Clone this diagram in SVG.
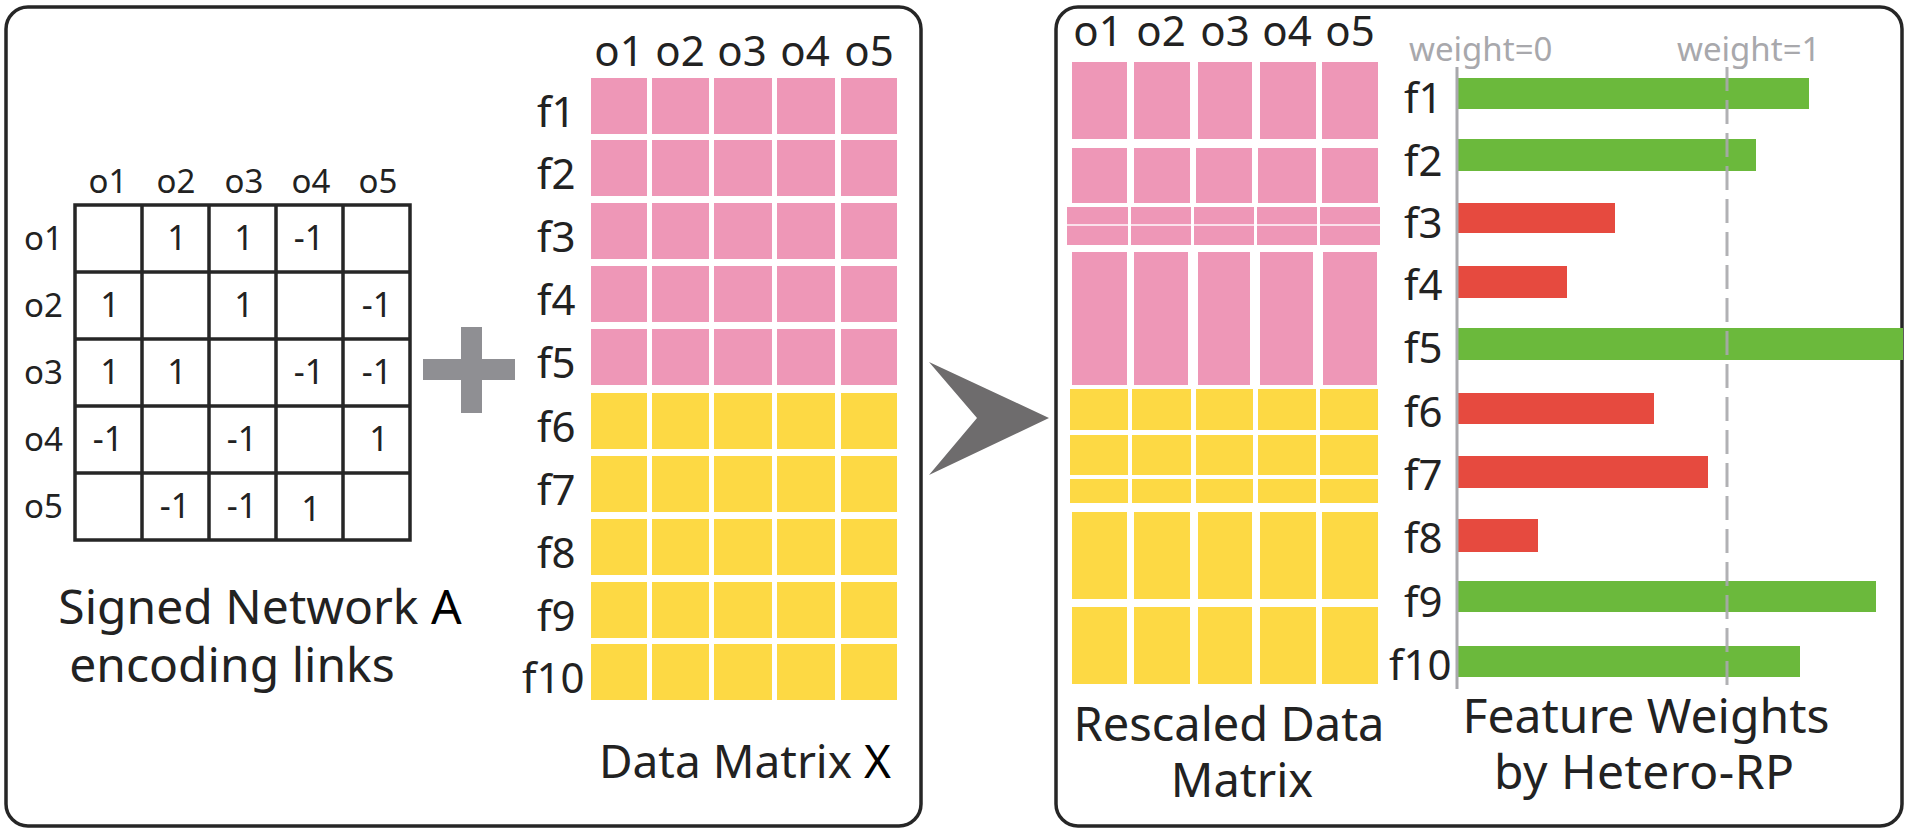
<svg xmlns="http://www.w3.org/2000/svg" width="1905" height="829" viewBox="0 0 1905 829">
  <style>
    .panel { fill: #fff; stroke: #262626; stroke-width: 3.5; }
    .grid { fill: none; stroke: #262626; stroke-width: 3.5; }
    .t { font-family: "Noto Sans", "Open Sans", sans-serif; fill: #222; }
    .lab { font-size: 33px; }
    .val { font-size: 34px; text-anchor: middle; }
    .hdr { font-size: 42px; text-anchor: middle; }
    .feat { font-size: 42px; }
    .cap { font-size: 47px; text-anchor: middle; }
    .pk { fill: #ee97b7; }
    .yl { fill: #fdd944; }
    .gr { fill: #6bb93c; }
    .rd { fill: #e64a3f; }
    .wt { font-family: "Noto Sans", "Open Sans", sans-serif; font-size: 33px; fill: #a8a8ac; }
    .axis { stroke: #a8a8ac; stroke-width: 3; fill: none; }
  </style>

  <!-- left panel: inputs -->
  <rect class="panel" x="6" y="7" width="915" height="819" rx="22"/>

  <!-- signed network adjacency matrix A -->
  <g id="signed-network">
    <rect class="grid" x="75" y="205" width="335" height="335"/>
    <path class="grid" d="M142,205V540M209,205V540M276,205V540M343,205V540M75,272H410M75,339H410M75,406H410M75,473H410"/>
    <g class="t lab" text-anchor="middle">
      <text x="108" y="193">o1</text>
      <text x="176" y="193">o2</text>
      <text x="244" y="193">o3</text>
      <text x="311" y="193">o4</text>
      <text x="378" y="193">o5</text>
    </g>
    <g class="t lab">
      <text x="24" y="250">o1</text>
      <text x="24" y="317">o2</text>
      <text x="24" y="384">o3</text>
      <text x="24" y="451">o4</text>
      <text x="24" y="518">o5</text>
    </g>
    <g class="t val">
      <text x="177" y="250">1</text>
      <text x="244" y="250">1</text>
      <text x="309" y="250">-1</text>
      <text x="110" y="317">1</text>
      <text x="244" y="317">1</text>
      <text x="377" y="317">-1</text>
      <text x="110" y="384">1</text>
      <text x="177" y="384">1</text>
      <text x="309" y="384">-1</text>
      <text x="377" y="384">-1</text>
      <text x="108" y="451">-1</text>
      <text x="242" y="451">-1</text>
      <text x="379" y="451">1</text>
      <text x="175" y="518">-1</text>
      <text x="242" y="518">-1</text>
      <text x="311" y="521">1</text>
    </g>
    <text class="t cap" x="260" y="624" style="font-size:48px">Signed Network <tspan fill="#000">A</tspan></text>
    <text class="t cap" x="232" y="682" style="font-size:48px">encoding links</text>
  </g>

  <!-- plus sign -->
  <g id="plus" fill="#8f8f93">
    <rect x="423" y="359" width="92" height="21"/>
    <rect x="461" y="327" width="21" height="86"/>
  </g>

  <!-- data matrix X -->
  <g id="data-matrix">
    <g class="t hdr">
      <text x="619" y="66">o1</text>
      <text x="680" y="66">o2</text>
      <text x="742" y="66">o3</text>
      <text x="805" y="66">o4</text>
      <text x="869" y="66">o5</text>
    </g>
    <g class="t feat">
      <text x="537" y="127">f1</text>
      <text x="537" y="189">f2</text>
      <text x="537" y="252">f3</text>
      <text x="537" y="315">f4</text>
      <text x="537" y="378">f5</text>
      <text x="537" y="442">f6</text>
      <text x="537" y="505">f7</text>
      <text x="537" y="568">f8</text>
      <text x="537" y="631">f9</text>
      <text x="522" y="693">f10</text>
    </g>
    <defs>
      <g id="pink-row">
        <rect class="pk" x="591" y="0" width="56" height="56"/>
        <rect class="pk" x="652" y="0" width="57" height="56"/>
        <rect class="pk" x="714" y="0" width="58" height="56"/>
        <rect class="pk" x="777" y="0" width="58" height="56"/>
        <rect class="pk" x="841" y="0" width="56" height="56"/>
      </g>
      <g id="yellow-row">
        <rect class="yl" x="591" y="0" width="56" height="56"/>
        <rect class="yl" x="652" y="0" width="57" height="56"/>
        <rect class="yl" x="714" y="0" width="58" height="56"/>
        <rect class="yl" x="777" y="0" width="58" height="56"/>
        <rect class="yl" x="841" y="0" width="56" height="56"/>
      </g>
    </defs>
    <use href="#pink-row" y="78"/>
    <use href="#pink-row" y="140"/>
    <use href="#pink-row" y="203"/>
    <use href="#pink-row" y="266"/>
    <use href="#pink-row" y="329"/>
    <use href="#yellow-row" y="393"/>
    <use href="#yellow-row" y="456"/>
    <use href="#yellow-row" y="519"/>
    <use href="#yellow-row" y="582"/>
    <use href="#yellow-row" y="644"/>
    <text class="t cap" x="745" y="778" style="font-size:46px">Data Matrix <tspan fill="#000">X</tspan></text>
  </g>

  <!-- transformation arrow -->
  <g id="connectors">
    <polygon points="929,362 1049,418 929,475 977,418" fill="#6e6c6d"/>
  </g>

  <!-- right panel: results -->
  <rect class="panel" x="1056" y="7" width="846" height="819" rx="22"/>

  <!-- rescaled data matrix -->
  <g id="rescaled-matrix">
    <g class="t hdr">
      <text x="1098" y="46">o1</text>
      <text x="1161" y="46">o2</text>
      <text x="1225" y="46">o3</text>
      <text x="1287" y="46">o4</text>
      <text x="1350" y="46">o5</text>
    </g>
    <g class="pk">
      <!-- f1 -->
      <rect x="1072" y="62" width="55" height="77"/>
      <rect x="1134" y="62" width="56" height="77"/>
      <rect x="1198" y="62" width="54" height="77"/>
      <rect x="1260" y="62" width="56" height="77"/>
      <rect x="1322" y="62" width="56" height="77"/>
      <!-- f2 -->
      <rect x="1072" y="148" width="55" height="55"/>
      <rect x="1134" y="148" width="56" height="55"/>
      <rect x="1196" y="148" width="56" height="55"/>
      <rect x="1258" y="148" width="58" height="55"/>
      <rect x="1322" y="148" width="56" height="55"/>
      <!-- f3 -->
      <rect x="1067" y="207" width="61" height="38"/>
      <rect x="1131" y="207" width="60" height="38"/>
      <rect x="1194" y="207" width="60" height="38"/>
      <rect x="1257" y="207" width="60" height="38"/>
      <rect x="1320" y="207" width="60" height="38"/>
      <!-- f4, f5 -->
      <rect x="1072" y="252" width="55" height="133"/>
      <rect x="1134" y="252" width="54" height="133"/>
      <rect x="1198" y="252" width="52" height="133"/>
      <rect x="1260" y="252" width="53" height="133"/>
      <rect x="1323" y="252" width="54" height="133"/>
    </g>
    <rect x="1067" y="224" width="313" height="2" fill="#fff" opacity="0.7"/>
    <g class="yl">
      <!-- f6 -->
      <rect x="1070" y="389" width="58" height="41"/>
      <rect x="1132" y="389" width="59" height="41"/>
      <rect x="1196" y="389" width="57" height="41"/>
      <rect x="1258" y="389" width="58" height="41"/>
      <rect x="1320" y="389" width="58" height="41"/>
      <!-- f7 -->
      <rect x="1070" y="435" width="58" height="40"/>
      <rect x="1132" y="435" width="59" height="40"/>
      <rect x="1196" y="435" width="57" height="40"/>
      <rect x="1258" y="435" width="58" height="40"/>
      <rect x="1320" y="435" width="58" height="40"/>
      <!-- f8 -->
      <rect x="1070" y="479" width="58" height="24"/>
      <rect x="1132" y="479" width="59" height="24"/>
      <rect x="1196" y="479" width="57" height="24"/>
      <rect x="1258" y="479" width="58" height="24"/>
      <rect x="1320" y="479" width="58" height="24"/>
      <!-- f9 -->
      <rect x="1072" y="512" width="55" height="87"/>
      <rect x="1134" y="512" width="56" height="87"/>
      <rect x="1198" y="512" width="54" height="87"/>
      <rect x="1260" y="512" width="56" height="87"/>
      <rect x="1322" y="512" width="56" height="87"/>
      <!-- f10 -->
      <rect x="1072" y="607" width="55" height="77"/>
      <rect x="1134" y="607" width="56" height="77"/>
      <rect x="1198" y="607" width="54" height="77"/>
      <rect x="1260" y="607" width="56" height="77"/>
      <rect x="1322" y="607" width="56" height="77"/>
    </g>
    <text class="t cap" x="1229" y="741">Rescaled Data</text>
    <text class="t cap" x="1242" y="797">Matrix</text>
  </g>

  <!-- feature weights bar chart -->
  <g id="feature-weights">
    <text class="wt" x="1409" y="61">weight=0</text>
    <text class="wt" x="1677" y="61">weight=1</text>
    <g class="t feat">
      <text x="1404" y="113">f1</text>
      <text x="1404" y="176">f2</text>
      <text x="1404" y="238">f3</text>
      <text x="1404" y="300">f4</text>
      <text x="1404" y="363">f5</text>
      <text x="1404" y="427">f6</text>
      <text x="1404" y="490">f7</text>
      <text x="1404" y="553">f8</text>
      <text x="1404" y="617">f9</text>
      <text x="1389" y="680">f10</text>
    </g>
    <rect class="gr" x="1458" y="78" width="351" height="31"/>
    <rect class="gr" x="1458" y="139" width="298" height="32"/>
    <rect class="rd" x="1458" y="203" width="157" height="30"/>
    <rect class="rd" x="1458" y="266" width="109" height="32"/>
    <rect class="gr" x="1458" y="328" width="445" height="32"/>
    <rect class="rd" x="1458" y="393" width="196" height="31"/>
    <rect class="rd" x="1458" y="456" width="250" height="32"/>
    <rect class="rd" x="1458" y="519" width="80" height="33"/>
    <rect class="gr" x="1458" y="581" width="418" height="31"/>
    <rect class="gr" x="1458" y="646" width="342" height="31"/>
    <line class="axis" x1="1457" y1="67" x2="1457" y2="689"/>
    <line class="axis" x1="1727" y1="67" x2="1727" y2="689" stroke-dasharray="24 9" opacity="0.9"/>
    <text class="t cap" x="1646" y="733" style="font-size:48px">Feature Weights</text>
    <text class="t cap" x="1644" y="789" style="font-size:48px" textLength="300" lengthAdjust="spacing">by Hetero-RP</text>
  </g>
</svg>
